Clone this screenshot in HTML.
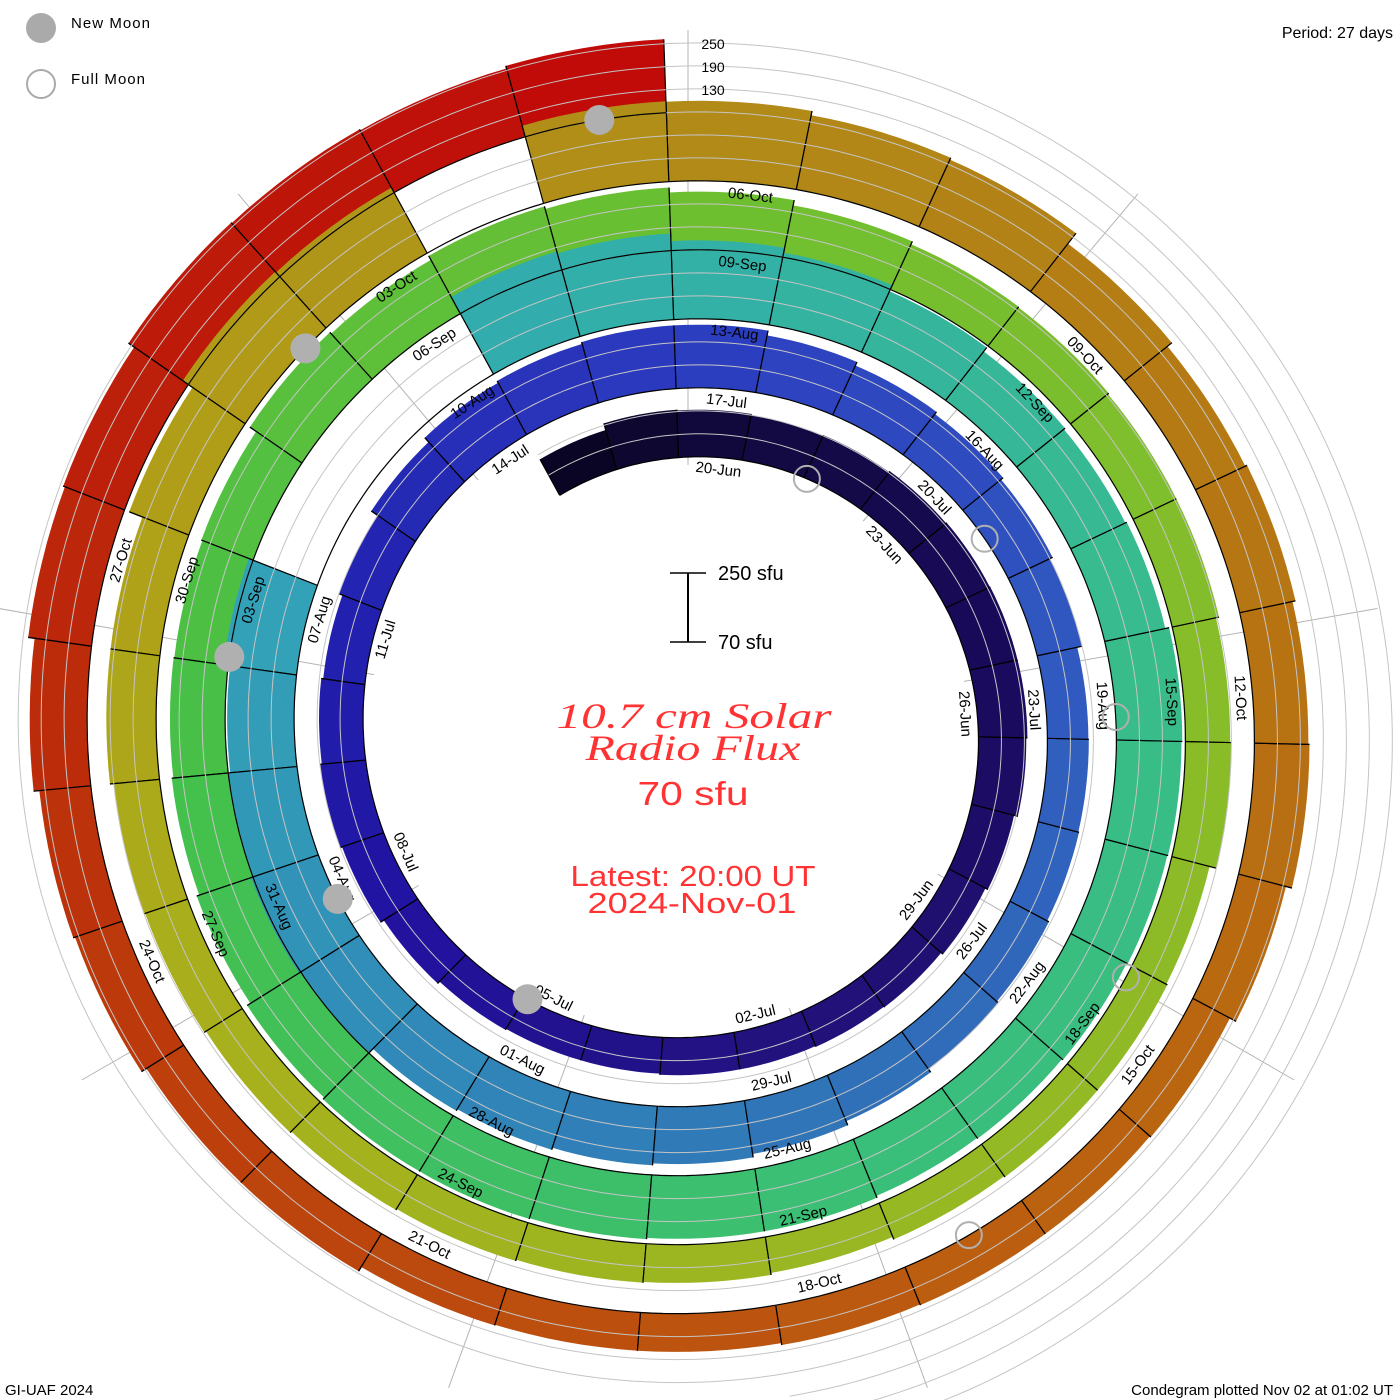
<!DOCTYPE html>
<html><head><meta charset="utf-8">
<style>
html,body{margin:0;padding:0;background:#fff;}
svg{display:block;}
text{font-family:"Liberation Sans",sans-serif;}
</style></head>
<body>
<svg id="chart" width="1400" height="1400" viewBox="0 0 1400 1400" xmlns="http://www.w3.org/2000/svg">
<rect width="1400" height="1400" fill="#fff"/>
<g id="grid"></g>
<g id="bars"></g>
<g id="over"></g>
<g id="labels"></g>
<g id="moons"></g>

<g>
<circle cx="41" cy="28" r="15" fill="#aaa"/>
<text x="71" y="28" font-size="15" fill="#000" textLength="79">New Moon</text>
<circle cx="41" cy="84" r="14" fill="none" stroke="#aaa" stroke-width="2"/>
<text x="71" y="84" font-size="15" fill="#000" textLength="74">Full Moon</text>
</g>
<text x="1393" y="38" font-size="16" text-anchor="end" fill="#000">Period: 27 days</text>
<text x="5" y="1395" font-size="15" fill="#000">GI-UAF 2024</text>
<text x="1393" y="1395" font-size="15" text-anchor="end" fill="#000">Condegram plotted Nov 02 at 01:02 UT</text>

<g>
<text x="713" y="49" font-size="14" text-anchor="middle" fill="#000">250</text>
<text x="713" y="72" font-size="14" text-anchor="middle" fill="#000">190</text>
<text x="713" y="95" font-size="14" text-anchor="middle" fill="#000">130</text>
</g>

<g>
<line x1="688" y1="573" x2="688" y2="642" stroke="#000" stroke-width="2"/>
<line x1="670" y1="573" x2="706" y2="573" stroke="#000" stroke-width="1.5"/>
<line x1="670" y1="642" x2="706" y2="642" stroke="#000" stroke-width="1.5"/>
<text x="718" y="580" font-size="20" fill="#000">250 sfu</text>
<text x="718" y="649" font-size="20" fill="#000">70 sfu</text>
</g>

<g fill="#ff3333" text-anchor="middle">
<text x="694" y="728" font-size="36" font-style="italic" textLength="275" lengthAdjust="spacingAndGlyphs" style="font-family:'Liberation Serif',serif">10.7 cm Solar</text>
<text x="693" y="760" font-size="36" font-style="italic" textLength="215" lengthAdjust="spacingAndGlyphs" style="font-family:'Liberation Serif',serif">Radio Flux</text>
<text x="693" y="805" font-size="33" textLength="111" lengthAdjust="spacingAndGlyphs">70 sfu</text>
<text x="693" y="886" font-size="29" textLength="245" lengthAdjust="spacingAndGlyphs">Latest: 20:00 UT</text>
<text x="692" y="913" font-size="29" textLength="209" lengthAdjust="spacingAndGlyphs">2024-Nov-01</text>
</g>
</svg>

<script>
// ---- data (one value per day starting 2024-06-18; null = missing) ----
const startDate = "2024-06-18";
const fluxTurn1 = [177,195,193,190,192,195,197,198,198,195,185,178,172,170,168,168,165,165,168,175,185,190,185,180,190,210,225];
const fluxTurn2 = [230,235,235,222,212,205,198,190,177,178,180,185,190,200,211,220,225,230,235,250,255,250,245,262,null,null,null];
const fluxTurn3 = [300,295,275,262,245,232,228,232,242,240,238,235,232,230,235,235,238,240,240,235,225,218,214,212,215,235,230];
const fluxTurn4 = [242,235,222,208,200,198,195,195,187,190,172,175,175,172,165,170,172,175,178,182,187,190,200,200,237,268,265];
const fluxTurn5 = [null,280,279,268,263,229,214,219,211,214,198,180,177,177,175,170,170,172,185,185,200,205,220,237,242,260,258];
const fluxTurn6 = [255,262];
const newMoonDays = [17.96, 47.47, 77.08, 106.77, 136.53];
const fullMoonDays = [4.05, 33.44, 62.77, 92.11, 121.47];
const gridLevels = [130, 190, 250];
const baseFlux = 70;

const flux = [].concat(fluxTurn1, fluxTurn2, fluxTurn3, fluxTurn4, fluxTurn5, fluxTurn6);

// ---- axis functions ----
const CX = 688, CY = 730;
const PX_PER_SFU = 0.383;
function angleDeg(u){ return -28.67 + 13.3333 * u; }
function baseR(u){ return 267.5 + 2.556 * u; }
function thick(f){ return (f - baseFlux) * PX_PER_SFU; }
function pt(u, r){ const a = angleDeg(u) * Math.PI / 180; return [CX + r * Math.sin(a), CY - r * Math.cos(a)]; }

const stops = [
 [0,[10,4,32]],[3,[18,10,64]],[8,[26,10,92]],[14,[34,18,122]],[20,[34,18,160]],[24,[34,34,176]],
 [29,[44,60,192]],[35,[48,88,192]],[41,[48,114,184]],[47,[48,144,184]],[50,[51,160,184]],
 [56,[50,176,168]],[62,[56,188,140]],[68,[58,191,120]],[76,[69,192,74]],[83,[108,191,48]],
 [89,[133,189,42]],[95,[152,184,34]],[101,[168,176,28]],[105,[176,160,24]],[110,[176,140,24]],
 [116,[182,116,18]],[122,[188,92,16]],[128,[188,60,12]],[133,[188,28,10]],[137,[192,8,8]]];
function colorAt(u){
  for(let i=0;i<stops.length-1;i++){
    const [a,ca]=stops[i],[b,cb]=stops[i+1];
    if(u<=b){ const t=Math.max(0,(u-a)/(b-a)); return 'rgb('+ca.map((v,k)=>Math.round(v+(cb[k]-v)*t)).join(',')+')'; }
  }
  const c=stops[stops.length-1][1]; return 'rgb('+c.join(',')+')';
}
const NS = "http://www.w3.org/2000/svg";
function mk(tag, attrs, parent){ const e=document.createElementNS(NS,tag); for(const k in attrs) e.setAttribute(k,attrs[k]); parent.appendChild(e); return e; }
function spiralPath(u0,u1,off){
  let d=''; const n=Math.ceil((u1-u0)*12);
  for(let k=0;k<=n;k++){ const u=u0+(u1-u0)*k/n; const p=pt(u, baseR(u)+off); d+=(k?'L':'M')+p[0].toFixed(1)+','+p[1].toFixed(1); }
  return d;
}

const gridG=document.getElementById('grid'), barsG=document.getElementById('bars'), overG=document.getElementById('over'), labG=document.getElementById('labels'), moonG=document.getElementById('moons');

// spokes every 3 days (40 deg), starting at the innermost baseline for that angle
for(let k=0;k<9;k++){
  const deg=k*40;
  let u=(deg+28.67)/13.3333; if(u<0) u+=27;
  const r0=baseR(u)-8;
  const a=deg*Math.PI/180;
  const ln=mk('line',{x1:CX+r0*Math.sin(a),y1:CY-r0*Math.cos(a),x2:CX+700*Math.sin(a),y2:CY-700*Math.cos(a),stroke:'#b4b4b4','stroke-width':1},gridG);
  
  
}

// bars: draw latest first so earlier turns sit on top
const N = flux.length;
for(let i=N-1;i>=0;i--){
  if(flux[i]==null) continue;
  const t=thick(flux[i]);
  const n=8; let d='';
  for(let k=0;k<=n;k++){ const u=i+k/n; const p=pt(u,baseR(u)); d+=(k?'L':'M')+p[0].toFixed(1)+','+p[1].toFixed(1); }
  for(let k=n;k>=0;k--){ const u=i+k/n; const p=pt(u,baseR(u)+t); d+='L'+p[0].toFixed(1)+','+p[1].toFixed(1); }
  const bar=mk('path',{d:d+'Z',fill:colorAt(i+0.5)},barsG);
  
  
  [i,i+1].forEach(function(u){
    const nb = (u===i)? flux[i-1] : flux[i+1];
    const tt = Math.max(t, nb==null?0:thick(nb));
    const p1=pt(u,baseR(u)), p2=pt(u,baseR(u)+tt);
    const ln=mk('line',{x1:p1[0],y1:p1[1],x2:p2[0],y2:p2[1],stroke:'#000','stroke-width':1.2},barsG);
    
    
  });
}

// grid spirals at flux levels
gridLevels.forEach(function(g){
  const p=mk('path',{d:spiralPath(0,150,thick(g)),fill:'none',stroke:'#c4c4c4','stroke-width':1},overG);
  
  
});
// baseline spiral
const bl=mk('path',{d:spiralPath(0,N,0),fill:'none',stroke:'#000','stroke-width':1.2},overG);



// date labels every 3 days
const months=['Jan','Feb','Mar','Apr','May','Jun','Jul','Aug','Sep','Oct','Nov','Dec'];
const d0=new Date(startDate+'T00:00:00Z');
for(let i=2;i<=131;i+=3){
  const dt=new Date(d0.getTime()+i*86400000);
  const s=String(dt.getUTCDate()).padStart(2,'0')+'-'+months[dt.getUTCMonth()];
  let a=angleDeg(i+0.5)+2; let an=((a%360)+360)%360; if(an>180) an-=360;
  const rot=(an>90||an<=-90)? an-180 : an;
  const p=pt(i+0.5+2/13.333, baseR(i+0.5)-12);
  const tx=mk('text',{x:p[0].toFixed(1),y:p[1].toFixed(1),'font-size':15,'text-anchor':'middle','dominant-baseline':'central',fill:'#000',transform:'rotate('+rot.toFixed(1)+' '+p[0].toFixed(1)+' '+p[1].toFixed(1)+')'},labG);
  tx.textContent=s;
  
  
}

// moons
newMoonDays.forEach(function(u){
  const p=pt(u,baseR(u));
  const c=mk('circle',{cx:p[0],cy:p[1],r:15,fill:'#b0b0b0'},moonG);
  
  
});
fullMoonDays.forEach(function(u){
  const p=pt(u,baseR(u));
  const c=mk('circle',{cx:p[0],cy:p[1],r:13,fill:'none',stroke:'#b0b0b0','stroke-width':2},moonG);
  
  
});
</script>
</body></html>
